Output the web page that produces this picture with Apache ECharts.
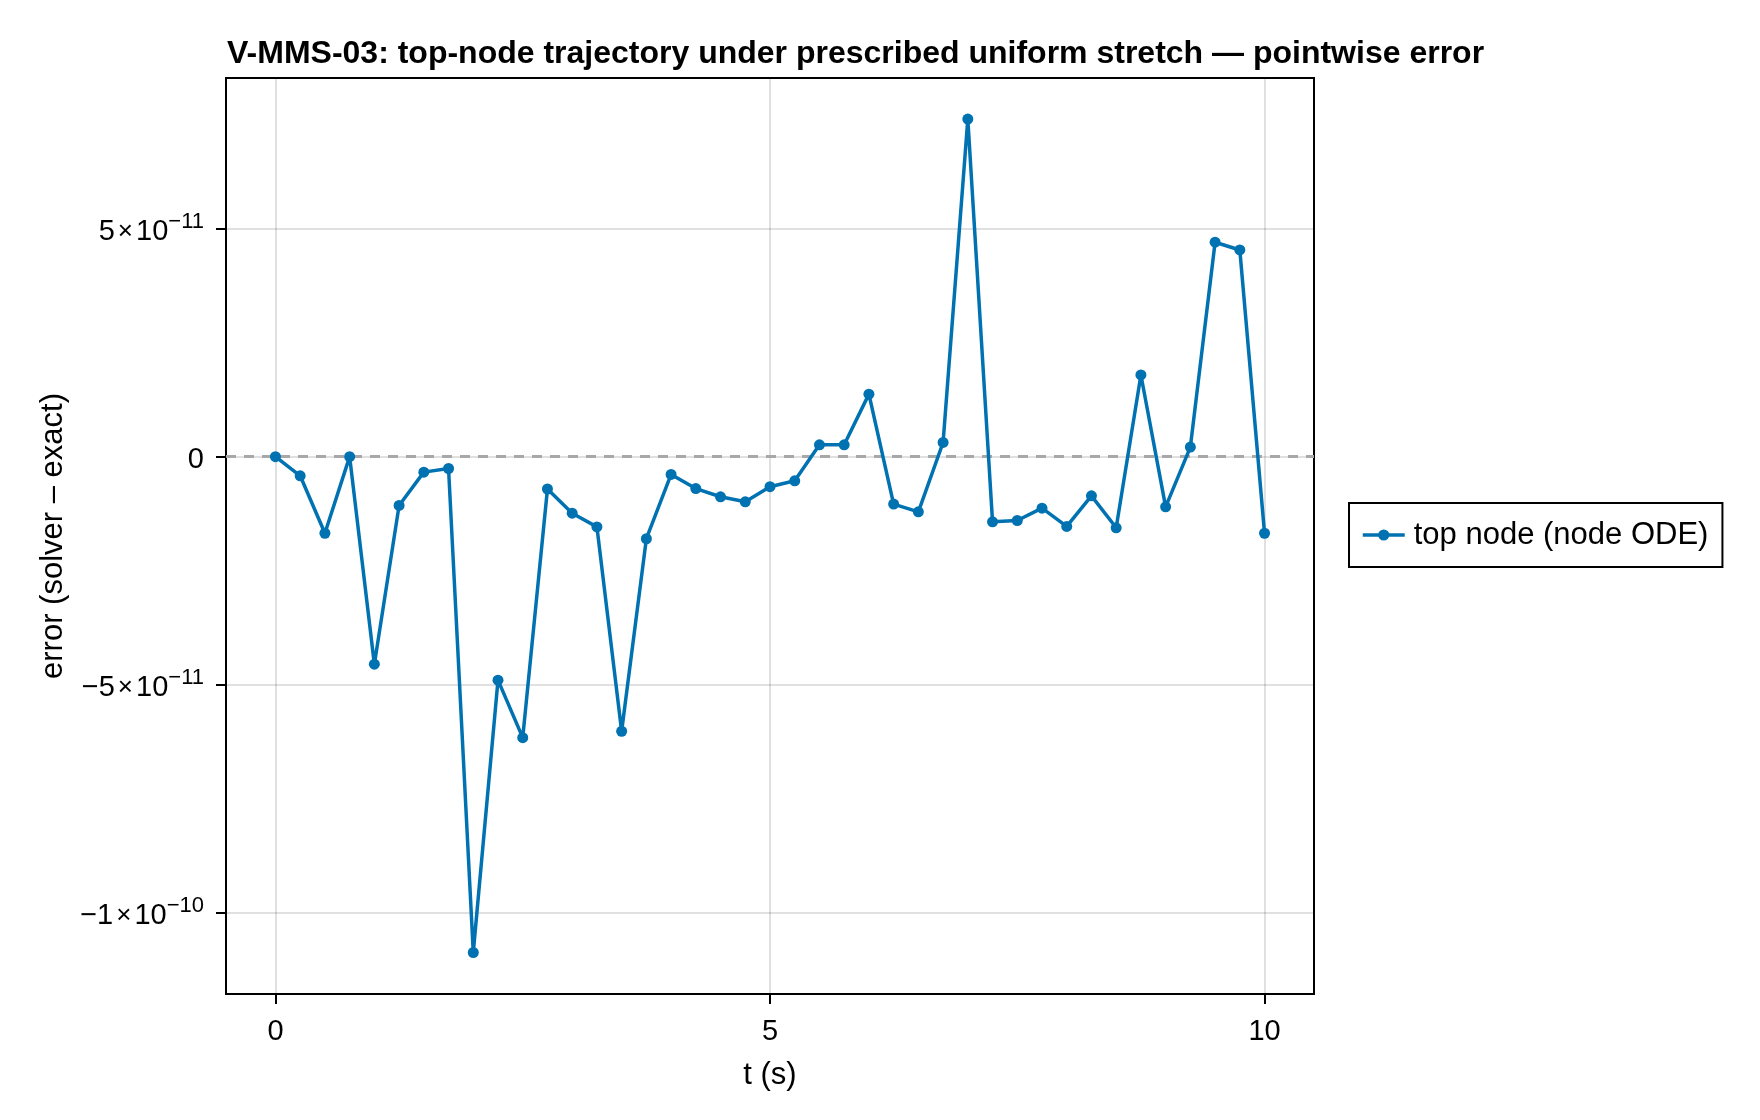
<!DOCTYPE html>
<html>
<head>
<meta charset="utf-8">
<title>V-MMS-03 pointwise error</title>
<script src="https://cdn.jsdelivr.net/npm/echarts@6/dist/echarts.min.js"></script>
<style>
  html, body { margin: 0; padding: 0; background: #fff; }
  #chart { width: 1760px; height: 1120px; }
</style>
</head>
<body>
<div id="chart"></div>
<script>
// sample times (s)
const times = [
  0, 0.25, 0.5, 0.75, 1, 1.25, 1.5, 1.75, 2, 2.25,
  2.5, 2.75, 3, 3.25, 3.5, 3.75, 4, 4.25, 4.5, 4.75,
  5, 5.25, 5.5, 5.75, 6, 6.25, 6.5, 6.75, 7, 7.25,
  7.5, 7.75, 8, 8.25, 8.5, 8.75, 9, 9.25, 9.5, 9.75, 10
]
// error (solver - exact)
const errors = [
  0, -4.2e-12, -1.68e-11, 0, -4.55e-11, -1.07e-11, -3.4e-12, -2.6e-12, -1.087e-10, -4.9e-11,
  -6.16e-11, -7.1e-12, -1.24e-11, -1.54e-11, -6.02e-11, -1.8e-11, -3.9e-12, -7.0e-12, -8.8e-12, -9.9e-12,
  -6.6e-12, -5.3e-12, 2.6e-12, 2.6e-12, 1.37e-11, -1.04e-11, -1.21e-11, 3.1e-12, 7.4e-11, -1.43e-11,
  -1.4e-11, -1.13e-11, -1.53e-11, -8.6e-12, -1.56e-11, 1.79e-11, -1.1e-11, 2.1e-12, 4.7e-11, 4.53e-11, -1.68e-11
]
const xTicks = [0, 5, 10]
const yTicks = [-1e-10, -5e-11, 0, 5e-11]
const yTickMant = ['−1', '−5', '0', '5']
const yTickExp = ['−10', '−11', '', '−11']

const font = "'Liberation Sans', Arial, sans-serif"
const blue = '#0072b2'

const chart = echarts.init(document.getElementById('chart'))

const yLabel = (v) => {
  const i = yTicks.findIndex(t => Math.abs(t - v) < 1e-15)
  if (i < 0) return ''
  if (!yTickExp[i]) return '{m|' + yTickMant[i] + '}'
  return '{m|' + yTickMant[i] + '}{x|×}{m|10}{e|' + yTickExp[i] + '}'
}

const option = {
  animation: false,
  backgroundColor: '#fff',
  textStyle: { fontFamily: font },
  title: {
    text: 'V-MMS-03: top-node trajectory under prescribed uniform stretch — pointwise error',
    left: 222,
    top: 33,
    textStyle: { fontFamily: font, fontSize: 32, fontWeight: 'bold', color: '#000' }
  },
  legend: {
    left: 1349,
    top: 503,
    orient: 'vertical',
    itemWidth: 42,
    itemHeight: 14,
    itemGap: 0,
    padding: [15, 14, 15, 12],
    borderColor: '#000',
    borderWidth: 2,
    lineStyle: { width: 3.5 },
    textStyle: { fontFamily: font, fontSize: 31, color: '#000', lineHeight: 34, padding: [0, 0, 0, 4] }
  },
  grid: {
    left: 226,
    top: 78,
    right: 446,
    bottom: 126,
    show: true,
    borderColor: '#000',
    borderWidth: 2
  },
  xAxis: {
    type: 'value',
    min: -0.5,
    max: 10.5,
    name: 't (s)',
    nameLocation: 'middle',
    nameGap: 66,
    nameTextStyle: { fontFamily: font, fontSize: 31, color: '#000' },
    axisLine: { show: true, onZero: false, lineStyle: { color: '#000', width: 2 } },
    axisTick: { show: true, customValues: xTicks, length: 10, lineStyle: { color: '#000', width: 2 } },
    axisLabel: { customValues: xTicks, margin: 23, fontFamily: font, fontSize: 29, color: '#000' },
    splitLine: { show: true, lineStyle: { color: 'rgba(0,0,0,0.12)', width: 2 } }
  },
  yAxis: {
    type: 'value',
    min: -1.178e-10,
    max: 8.3e-11,
    name: 'error (solver – exact)',
    nameLocation: 'middle',
    nameGap: 155,
    nameTextStyle: { fontFamily: font, fontSize: 31, color: '#000' },
    axisLine: { show: true, onZero: false, lineStyle: { color: '#000', width: 2 } },
    axisTick: { show: true, customValues: yTicks, length: 10, lineStyle: { color: '#000', width: 2 } },
    axisLabel: {
      customValues: yTicks,
      margin: 22,
      formatter: yLabel,
      color: '#000',
      rich: {
        m: { fontFamily: font, fontSize: 29, color: '#000', lineHeight: 36, verticalAlign: 'bottom' },
        x: { fontFamily: font, fontSize: 26, color: '#000', lineHeight: 36, verticalAlign: 'bottom', padding: [0, 3, 2, 3] },
        e: { fontFamily: font, fontSize: 22, color: '#000', lineHeight: 21, verticalAlign: 'top' }
      }
    },
    splitLine: { show: true, lineStyle: { color: 'rgba(0,0,0,0.12)', width: 2 } }
  },
  series: [
    {
      name: 'top node (node ODE)',
      type: 'line',
      data: times.map((t, i) => [t, errors[i]]),
      symbol: 'circle',
      symbolSize: 11,
      showSymbol: true,
      lineStyle: { color: blue, width: 3.5 },
      itemStyle: { color: blue },
      z: 3,
      markLine: {
        silent: true,
        z: 1,
        symbol: ['none', 'none'],
        label: { show: false },
        lineStyle: { color: '#a8a8a8', type: [10, 8], width: 3 },
        data: [{ yAxis: 0 }]
      }
    }
  ]
}

chart.setOption(option)
window.addEventListener('resize', () => chart.resize())
</script>
</body>
</html>
